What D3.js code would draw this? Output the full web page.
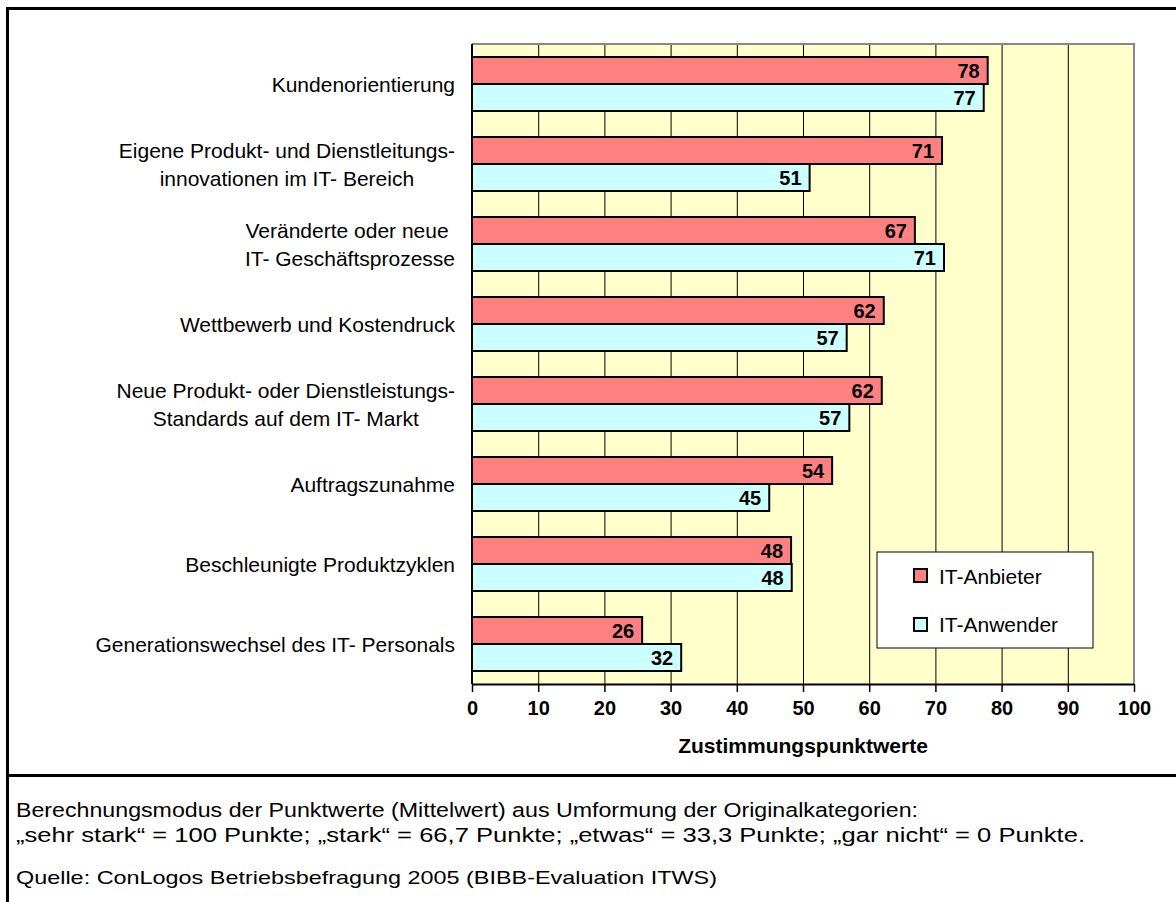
<!DOCTYPE html>
<html>
<head>
<meta charset="utf-8">
<script src="https://cdn.jsdelivr.net/npm/d3@7"></script>
<style>
  body { margin: 0; background: #fff; }
  svg text { font-family: "Liberation Sans", Arial, sans-serif; }
</style>
</head>
<body>
<svg id="chart" width="1176" height="902"></svg>
<script>
// categories (multi-line labels split by |)
const categories = [
  'Kundenorientierung',
  'Eigene Produkt- und Dienstleitungs-|innovationen im IT- Bereich',
  'Veränderte oder neue |IT- Geschäftsprozesse',
  'Wettbewerb und Kostendruck',
  'Neue Produkt- oder Dienstleistungs-|Standards auf dem IT- Markt',
  'Auftragszunahme',
  'Beschleunigte Produktzyklen',
  'Generationswechsel des IT- Personals'
]
const seriesNames = ['IT-Anbieter', 'IT-Anwender']
const anbieter = [77.9, 71.0, 66.9, 62.2, 61.9, 54.4, 48.2, 25.7]
const anwender = [77.3, 51.0, 71.3, 56.6, 57.0, 44.9, 48.3, 31.6]
const xTicks = [0, 10, 20, 30, 40, 50, 60, 70, 80, 90, 100]
const axisTitle = 'Zustimmungspunktwerte'
const noteLines = [
  'Berechnungsmodus der Punktwerte (Mittelwert) aus Umformung der Originalkategorien:',
  '„sehr stark“ = 100 Punkte; „stark“ =  66,7 Punkte; „etwas“ = 33,3 Punkte; „gar nicht“ = 0 Punkte.'
]
const source = 'Quelle: ConLogos Betriebsbefragung 2005 (BIBB-Evaluation ITWS)'

const colors = ['#ff8080', '#ccffff']

const svg = d3.select('#chart')
const plot = { left: 472, right: 1134, top: 44, bottom: 684 }

// outer frame
svg.append('path')
  .attr('d', 'M7.5,902 V8.5 H1176')
  .attr('fill', 'none').attr('stroke', '#000').attr('stroke-width', 3)
svg.append('line')
  .attr('x1', 6).attr('x2', 1176).attr('y1', 775.5).attr('y2', 775.5)
  .attr('stroke', '#000').attr('stroke-width', 3)

const x = d3.scaleLinear().domain([0, 100]).range([plot.left, plot.right])
const y = d3.scaleBand().domain(d3.range(categories.length)).range([plot.top, plot.bottom])
  .paddingInner(0.325).paddingOuter(0.1625)
const ySub = d3.scaleBand().domain([0, 1]).range([0, y.bandwidth()])

// plot background
svg.append('rect')
  .attr('x', plot.left).attr('y', plot.top)
  .attr('width', plot.right - plot.left).attr('height', plot.bottom - plot.top)
  .attr('fill', '#ffffcc')

// grid lines
svg.append('g').selectAll('line')
  .data(xTicks.filter(d => d > 0 && d < 100))
  .join('line')
  .attr('x1', d => x(d) + 0.5).attr('x2', d => x(d) + 0.5)
  .attr('y1', plot.top).attr('y2', plot.bottom)
  .attr('stroke', '#000').attr('stroke-width', 1)

// plot border top/right in grey
svg.append('path')
  .attr('d', `M${plot.left},${plot.top} H${plot.right} V${plot.bottom}`)
  .attr('fill', 'none').attr('stroke', '#888').attr('stroke-width', 2)

// bars
const rows = categories.map((c, i) => ({ i, vals: [anbieter[i], anwender[i]] }))
const groups = svg.append('g').selectAll('g')
  .data(rows)
  .join('g')
  .attr('transform', d => `translate(0,${y(d.i)})`)

groups.selectAll('rect')
  .data(d => d.vals.map((v, s) => ({ v, s })))
  .join('rect')
  .attr('x', x(0))
  .attr('y', d => ySub(d.s))
  .attr('width', d => x(d.v) - x(0))
  .attr('height', ySub.bandwidth())
  .attr('fill', d => colors[d.s])
  .attr('stroke', '#000').attr('stroke-width', 2)

groups.selectAll('text')
  .data(d => d.vals.map((v, s) => ({ v, s })))
  .join('text')
  .attr('x', d => x(d.v) - 8)
  .attr('y', d => ySub(d.s) + ySub.bandwidth() / 2)
  .attr('dy', '0.36em')
  .attr('text-anchor', 'end')
  .attr('font-size', 20).attr('font-weight', 'bold')
  .text(d => Math.round(d.v))

// left axis line
svg.append('line')
  .attr('x1', plot.left).attr('x2', plot.left)
  .attr('y1', plot.top).attr('y2', plot.bottom)
  .attr('stroke', '#000').attr('stroke-width', 2)

// bottom axis
const xAxis = d3.axisBottom(x).tickValues(xTicks).tickSize(8).tickPadding(9)
const gx = svg.append('g')
  .attr('transform', `translate(0,${plot.bottom})`)
  .call(xAxis)
gx.select('.domain').attr('stroke-width', 2).attr('d', `M${plot.left},0.5H${plot.right}`)
gx.selectAll('.tick line').attr('stroke-width', 1.5)
gx.selectAll('.tick text')
  .attr('font-size', 20).attr('font-weight', 'bold')
  .attr('font-family', '"Liberation Sans", Arial, sans-serif')
  .attr('fill', '#000')

svg.append('text')
  .attr('x', (plot.left + plot.right) / 2).attr('y', 753)
  .attr('text-anchor', 'middle')
  .attr('font-size', 21).attr('font-weight', 'bold')
  .text(axisTitle)

// category labels
const labels = svg.append('g').selectAll('text')
  .data(categories)
  .join('text')
  .attr('text-anchor', 'middle')
  .attr('font-size', 21)
  .attr('transform', (d, i) => `translate(0,${y(i) + y.bandwidth() / 2})`)

labels.each(function (d) {
  const lines = d.split('|')
  const t = d3.select(this)
  // measure widest line so the block is right-aligned, lines centred in it
  const tmp = t.append('tspan')
  let w = 0
  lines.forEach(l => { tmp.text(l); w = Math.max(w, tmp.node().getComputedTextLength()) })
  tmp.remove()
  const cx = 455 - w / 2
  lines.forEach((l, k) => {
    t.append('tspan')
      .attr('x', cx)
      .attr('y', (k - (lines.length - 1) / 2) * 28)
      .attr('dy', '0.36em')
      .text(l)
  })
})

// legend
const lg = svg.append('g').attr('transform', 'translate(877,552)')
lg.append('rect').attr('width', 216).attr('height', 96)
  .attr('fill', '#fff').attr('stroke', '#000').attr('stroke-width', 1)
seriesNames.forEach((n, i) => {
  lg.append('rect')
    .attr('x', 37).attr('y', 17 + i * 49)
    .attr('width', 13).attr('height', 13)
    .attr('fill', colors[i]).attr('stroke', '#000').attr('stroke-width', 2)
  lg.append('text')
    .attr('x', 62).attr('y', 24 + i * 48)
    .attr('dy', '0.36em')
    .attr('font-size', 21)
    .text(n)
})

// notes (reference text is rendered wider, so stretch to its width)
const noteWidths = [902, 1069]
svg.append('g').selectAll('text')
  .data(noteLines)
  .join('text')
  .attr('x', 16).attr('y', (d, i) => 817 + i * 25)
  .attr('font-size', 20.5)
  .attr('textLength', (d, i) => noteWidths[i])
  .attr('lengthAdjust', 'spacingAndGlyphs')
  .text(d => d)
svg.append('text')
  .attr('x', 16).attr('y', 884)
  .attr('font-size', 18.5)
  .attr('textLength', 701)
  .attr('lengthAdjust', 'spacingAndGlyphs')
  .text(source)
</script>
</body>
</html>
